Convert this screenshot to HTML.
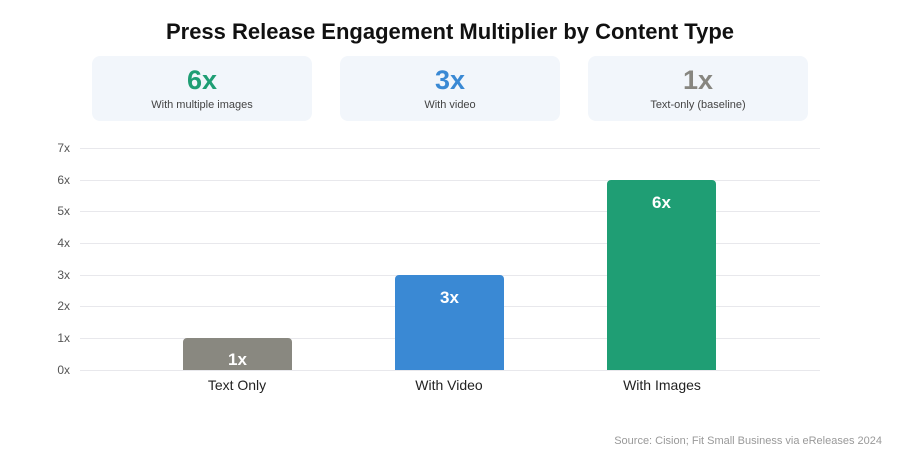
<!DOCTYPE html>
<html><head><style>
body{margin:0;background:#fff;font-family:"Liberation Sans",Arial,sans-serif;}
.w{position:relative;width:900px;height:460px;overflow:hidden}
.t{position:absolute;top:19px;left:0;width:900px;text-align:center;font-size:22px;font-weight:bold;color:#111}
.c{position:absolute;top:56px;width:220px;height:65px;background:#f2f6fb;border-radius:8px;text-align:center}
.c b{display:block;font-size:27px;margin-top:9px;line-height:30px}
.c span{display:block;font-size:11px;color:#444;margin-top:4px}
.g{position:absolute;left:80px;width:740px;height:1px;background:#e8e8ec}
.y{position:absolute;left:40px;width:30px;text-align:right;font-size:12px;color:#555}
.b{position:absolute;width:109px;border-radius:4px 4px 0 0;color:#fff;font-weight:bold;font-size:17px;text-align:center}
.x{position:absolute;top:377px;width:160px;text-align:center;font-size:14px;color:#222}
.s{position:absolute;right:18px;top:435px;font-size:11px;color:#999}
</style></head><body><div class="w">
<div class="t">Press Release Engagement Multiplier by Content Type</div>
<div class="c" style="left:92px"><b style="color:#1f9e74">6x</b><span>With multiple images</span></div>
<div class="c" style="left:340px"><b style="color:#3a89d4">3x</b><span>With video</span></div>
<div class="c" style="left:588px"><b style="color:#878680">1x</b><span>Text-only (baseline)</span></div>
<div class="g" style="top:148px"></div><div class="g" style="top:180px"></div><div class="g" style="top:211px"></div><div class="g" style="top:243px"></div><div class="g" style="top:275px"></div><div class="g" style="top:306px"></div><div class="g" style="top:338px"></div><div class="g" style="top:370px"></div>
<div class="y" style="top:141px">7x</div><div class="y" style="top:173px">6x</div><div class="y" style="top:204px">5x</div><div class="y" style="top:236px">4x</div><div class="y" style="top:268px">3x</div><div class="y" style="top:299px">2x</div><div class="y" style="top:331px">1x</div><div class="y" style="top:363px">0x</div>
<div class="b" style="left:183px;top:338px;height:32px;background:#898880"><div style="margin-top:12px">1x</div></div>
<div class="b" style="left:395px;top:275px;height:95px;background:#3a89d4"><div style="margin-top:13px">3x</div></div>
<div class="b" style="left:607px;top:180px;height:190px;background:#1f9e74"><div style="margin-top:13px">6x</div></div>
<div class="x" style="left:157px">Text Only</div>
<div class="x" style="left:369px">With Video</div>
<div class="x" style="left:582px">With Images</div>
<div class="s">Source: Cision; Fit Small Business via eReleases 2024</div>
</div></body></html>
